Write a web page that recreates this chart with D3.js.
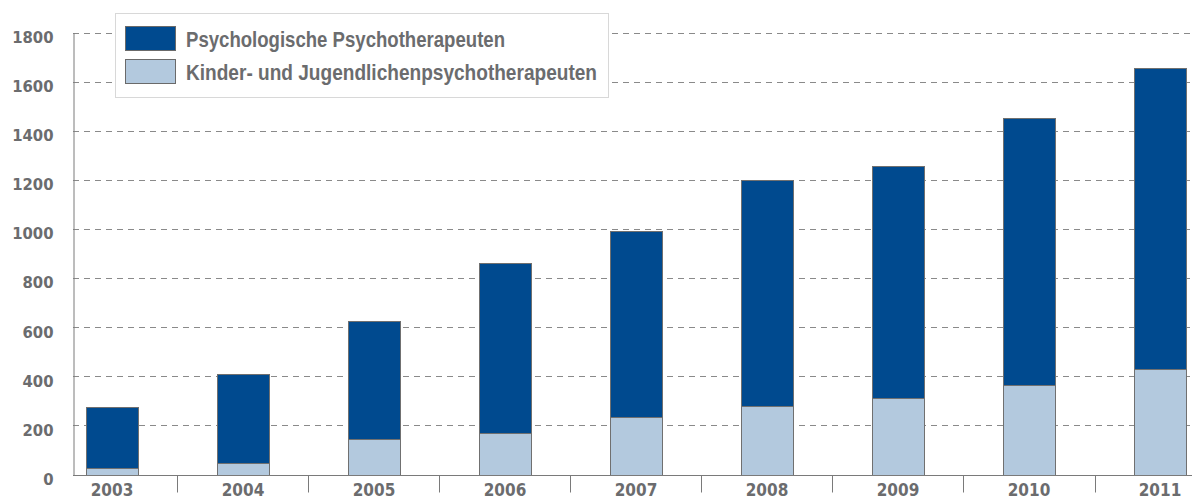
<!DOCTYPE html>
<html>
<head>
<meta charset="utf-8">
<script src="https://cdn.jsdelivr.net/npm/d3@7"></script>
<style>
  html, body { margin: 0; padding: 0; background: #fff; }
  svg { display: block; }
</style>
</head>
<body>
<svg id="chart" width="1192" height="500"></svg>
<script>
const years = ["2003","2004","2005","2006","2007","2008","2009","2010","2011"];
const psychologische = [251, 361, 480, 692, 757, 921, 945, 1084, 1223];
const kinderJugend = [25, 48, 146, 170, 234, 279, 310, 366, 431];
const yTicks = [0, 200, 400, 600, 800, 1000, 1200, 1400, 1600, 1800];
const seriesNames = ["Psychologische Psychotherapeuten", "Kinder- und Jugendlichenpsychotherapeuten"];
const seriesColors = ["#004a8f", "#b3c9de"];

const svg = d3.select("#chart");
const W = 1192, H = 500;
const axisX = 73;
const textColor = "#6b6c6e";
const numFont = "'DejaVu Sans Condensed', 'DejaVu Sans', sans-serif";
const legFont = "'Liberation Sans Narrow', 'Liberation Sans', sans-serif";

const y = d3.scaleLinear().domain([0, 1800]).range([474.5, 32.5]);
const x = d3.scaleBand().domain(years).range([46.5, 1225.5]).paddingInner(0.6).paddingOuter(0.3);

// grid
svg.append("g").selectAll("line").data(yTicks.filter(d => d > 0)).join("line")
  .attr("x1", axisX).attr("x2", W)
  .attr("y1", d => Math.round(y(d)) + 0.5).attr("y2", d => Math.round(y(d)) + 0.5)
  .attr("stroke", "#8a8a8a").attr("stroke-width", 1).attr("stroke-dasharray", "6,5");

// y axis
const yAxis = d3.axisLeft(y).tickValues(yTicks).tickFormat(d3.format("d")).tickSize(0).tickPadding(0);
const gy = svg.append("g").attr("transform", `translate(${axisX + 0.5},0)`).call(yAxis);
gy.select(".domain").attr("stroke", "#7a7a7a");
gy.selectAll(".tick text")
  .attr("x", -20).attr("dy", "0.72em").attr("y", -2)
  .attr("fill", textColor)
  .style("font-family", numFont).style("font-weight", "bold").style("font-size", "16.5px");

// stacked bars
const stackData = years.map((yr, i) => ({year: yr, kjp: kinderJugend[i], pp: psychologische[i]}));
const stack = d3.stack().keys(["kjp", "pp"]);
const layers = stack(stackData);
const colorFor = {kjp: seriesColors[1], pp: seriesColors[0]};

svg.append("g").selectAll("g").data(layers).join("g")
  .attr("fill", d => colorFor[d.key])
  .selectAll("rect").data(d => d).join("rect")
  .attr("x", d => Math.round(x(d.data.year)) + 0.5)
  .attr("width", Math.round(x.bandwidth()))
  .attr("y", d => Math.round(y(d[1])) + 0.5)
  .attr("height", d => Math.round(y(d[0])) - Math.round(y(d[1])))
  .attr("stroke", "#707070").attr("stroke-width", 1);

// x axis
const xAxisY = Math.round(y(0)) + 0.5;
svg.append("line").attr("x1", axisX).attr("x2", W).attr("y1", xAxisY).attr("y2", xAxisY)
  .attr("stroke", "#7a7a7a");
const boundaries = years.slice(0, -1).map(yr => x(yr) + x.bandwidth() + (x.step() - x.bandwidth()) / 2);
svg.append("g").selectAll("line").data(boundaries).join("line")
  .attr("x1", d => Math.round(d) + 0.5).attr("x2", d => Math.round(d) + 0.5)
  .attr("y1", xAxisY).attr("y2", xAxisY + 17)
  .attr("stroke", "#7a7a7a");
svg.append("g").selectAll("text").data(years).join("text")
  .attr("x", d => x(d) + x.bandwidth() / 2)
  .attr("y", 496)
  .attr("text-anchor", "middle")
  .attr("fill", textColor)
  .style("font-family", numFont).style("font-weight", "bold").style("font-size", "17px")
  .text(d => d);

// legend
const legendTextWidths = [319, 411];
const leg = svg.append("g");
leg.append("rect").attr("x", 115.5).attr("y", 13.5).attr("width", 493).attr("height", 84)
  .attr("fill", "#fff").attr("stroke", "#d8d8d8");
const items = leg.selectAll("g.item").data(seriesNames).join("g").attr("class", "item")
  .attr("transform", (d, i) => `translate(0, ${i * 33})`);
items.append("rect").attr("x", 125.5).attr("y", 26.5).attr("width", 50).attr("height", 24)
  .attr("fill", (d, i) => seriesColors[i]).attr("stroke", "#6a6a6a");
items.append("text").attr("x", 186).attr("y", 46.5)
  .attr("fill", textColor)
  .attr("textLength", (d, i) => legendTextWidths[i])
  .attr("lengthAdjust", "spacingAndGlyphs")
  .style("font-family", legFont).style("font-weight", "bold").style("font-size", "21.5px")
  .text(d => d);
</script>
</body>
</html>
